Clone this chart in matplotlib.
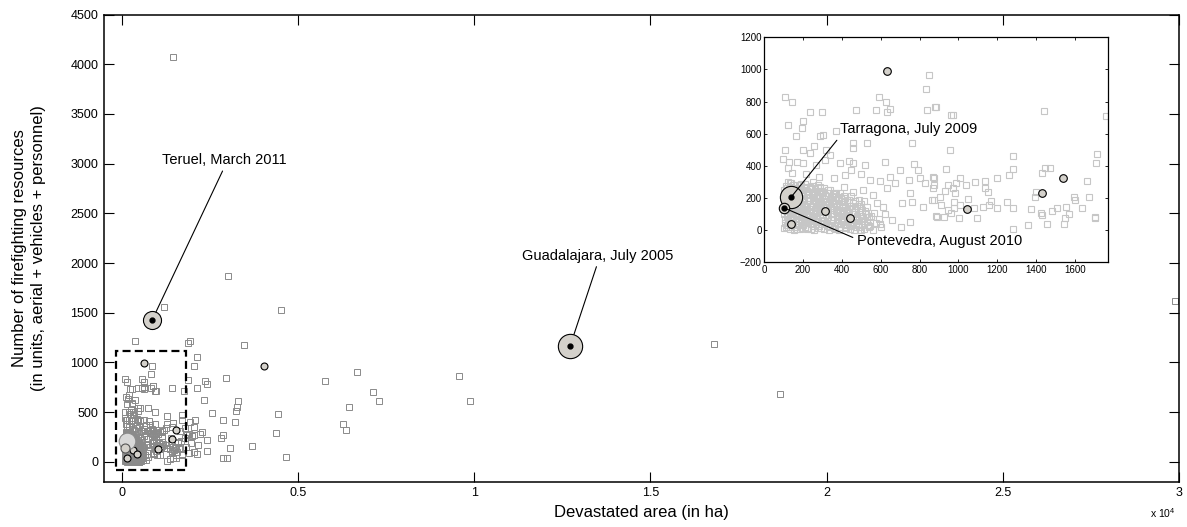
import numpy as np
import matplotlib.pyplot as plt
from matplotlib.patches import Rectangle

plt.rcParams['font.family'] = ['Liberation Sans', 'DejaVu Sans']
plt.rcParams['mathtext.fontset'] = 'custom'
plt.rcParams['mathtext.rm'] = 'Liberation Sans'

# fires outside the zoomed window (area in ha, resources)
big_fires = [
    (1446, 4076), (3017, 1869), (1211, 1555), (4508, 1528), (380, 1220), (1948, 1220),
    (1883, 1196), (3470, 1180), (2138, 1051), (2061, 959), (2949, 848), (1883, 824),
    (2364, 814), (2430, 780), (2127, 740), (2325, 621), (3300, 611), (3272, 547),
    (3244, 513), (2572, 492), (4451, 479), (2875, 425), (3215, 401), (1948, 401),
    (2090, 418), (4378, 290), (2864, 266), (2827, 243), (2421, 215), (3686, 158),
    (3073, 138), (2430, 104), (2138, 80), (4650, 46), (2864, 39), (2997, 39),
    (2231, 283), (1921, 283), (2279, 300), (2156, 168), (2042, 269), (2061, 352),
    (1806, 336), (1995, 262), (1853, 272), (1900, 85), (2042, 100), (1830, 150),
    (1960, 190), (1790, 240), (5776, 814), (6683, 899), (7128, 706), (7315, 614),
    (6456, 547), (6277, 381), (6371, 323), (9566, 868), (9895, 608), (16813, 1186),
    (18667, 679), (29880, 1615),
]

# fires readable inside the zoomed window
inset_fires = [
    (849, 968), (832, 879), (105, 829), (145, 800), (591, 829), (626, 800), (472, 745),
    (235, 737), (298, 737), (576, 745), (631, 737), (648, 752), (836, 745), (882, 766),
    (197, 677), (123, 656), (195, 635), (162, 583), (286, 583), (300, 589), (369, 618),
    (458, 541), (527, 541), (458, 514), (760, 541), (105, 500), (197, 500), (255, 521),
    (317, 500), (338, 468), (235, 479), (97, 441), (128, 421), (166, 421), (200, 416),
    (269, 406), (312, 437), (390, 416), (438, 433), (455, 416), (520, 406), (622, 421),
    (700, 375), (772, 410), (794, 375), (123, 385), (145, 358), (217, 350), (283, 333),
    (360, 323), (414, 343), (445, 375), (496, 350), (545, 312), (596, 306), (648, 333),
    (674, 291), (748, 312), (803, 323), (829, 291), (868, 329), (868, 260), (863, 187),
    (886, 87), (817, 146), (751, 229), (760, 177), (708, 166), (751, 52), (703, 20),
    (657, 66), (613, 146), (634, 260), (562, 218), (510, 250), (579, 166), (596, 41),
    (541, 20), (493, 0), (527, 83), (455, 239), (410, 271), (372, 229), (338, 250),
    (286, 271), (235, 260), (183, 281), (131, 291),
    (884, 766), (960, 714), (973, 714), (958, 500), (934, 379), (877, 323), (877, 281),
    (949, 281), (972, 260), (989, 291), (1011, 323), (1041, 281), (1087, 302),
    (1135, 308), (1139, 260), (1153, 235), (1199, 323), (1280, 464), (1284, 379),
    (1261, 343), (877, 187), (908, 208), (932, 246), (984, 229), (911, 156), (946, 125),
    (977, 173), (980, 135), (1011, 156), (1049, 193), (1080, 135), (1096, 73),
    (1006, 73), (963, 104), (925, 83), (891, 83), (1127, 146), (1158, 156), (1170, 181),
    (1199, 135), (1251, 173), (1280, 135), (1284, 8), (1359, 31), (1373, 129),
    (1428, 104), (1432, 93), (1401, 239), (1394, 208), (1433, 354), (1446, 389),
    (1470, 389), (1442, 741), (1459, 37), (1483, 121), (1511, 135), (1557, 146),
    (1571, 100), (1549, 73), (1545, 41), (1594, 204), (1601, 187), (1635, 135),
    (1664, 308), (1673, 208), (1716, 475), (1712, 416), (1704, 83), (1704, 73),
    (1759, 712),
]

# the dense bulk of small fires (estimated)
cluster_fires = [
    (102, 12), (118, 35), (131, 8), (147, 44), (158, 20), (172, 55), (186, 5), (199, 31),
    (213, 48), (226, 14), (241, 37), (255, 3), (268, 52), (282, 25), (296, 41), (309, 9),
    (323, 58), (337, 19), (351, 33), (364, 6), (378, 47), (392, 22), (405, 39), (419, 11),
    (433, 56), (447, 28), (461, 2), (474, 44), (488, 17), (502, 35), (516, 10), (530, 50),
    (547, 24), (561, 4),
    (105, 71), (121, 98), (134, 64), (149, 112), (163, 85), (177, 68), (190, 104),
    (204, 79), (219, 117), (232, 90), (246, 62), (259, 108), (273, 75), (287, 96),
    (300, 66), (314, 113), (328, 83), (343, 101), (356, 70), (370, 118), (384, 88),
    (397, 63), (411, 106), (425, 78), (439, 95), (452, 115), (466, 67), (480, 91),
    (495, 110), (509, 74), (523, 99), (540, 81), (566, 107), (590, 69),
    (103, 128), (116, 157), (129, 175), (142, 139), (155, 166), (168, 124), (181, 150),
    (195, 177), (208, 133), (222, 161), (235, 145), (249, 171), (262, 126), (276, 154),
    (290, 178), (303, 137), (317, 163), (330, 121), (344, 149), (358, 172), (371, 131),
    (385, 158), (399, 142), (412, 176), (426, 125), (440, 153), (455, 168), (470, 135),
    (488, 160), (505, 127), (528, 147),
    (100, 188), (112, 214), (126, 236), (139, 196), (152, 225), (165, 183), (178, 209),
    (192, 238), (205, 191), (218, 221), (231, 203), (245, 232), (258, 186), (272, 215),
    (285, 199), (299, 229), (312, 184), (326, 211), (340, 194), (354, 226), (368, 189),
    (383, 207), (398, 181), (415, 200), (437, 186),
    (101, 248), (114, 276), (127, 259), (140, 294), (154, 244), (167, 283), (181, 265),
    (194, 251), (208, 289), (221, 242), (235, 270), (249, 297), (263, 255), (277, 281),
    (291, 246), (306, 262),
    (110, 22), (124, 58), (137, 90), (152, 3), (165, 40), (180, 97), (193, 15), (207, 63),
    (220, 5), (234, 72), (250, 26), (264, 88), (277, 11), (291, 57), (305, 84), (318, 36),
    (332, 0), (346, 66), (360, 28), (373, 92), (387, 2), (402, 58), (416, 34), (430, 82),
    (444, 8), (458, 48), (472, 20), (486, 66), (500, 0), (113, 140), (126, 118),
    (139, 160), (157, 190), (171, 143), (184, 120), (198, 200), (212, 150), (226, 185),
    (240, 118), (253, 207), (267, 140), (280, 170), (294, 120), (308, 195), (321, 141),
    (335, 230), (349, 125), (362, 205), (376, 145), (390, 230), (405, 165), (420, 120),
    (118, 200), (132, 270), (146, 222), (160, 262), (174, 230), (188, 285), (202, 218),
    (216, 260), (230, 180), (243, 255), (257, 225), (270, 200), (284, 238), (298, 210),
    (120, 300), (134, 230), (148, 185),
    (106, 45), (115, 83), (123, 17), (133, 128), (141, 52), (150, 75), (159, 101),
    (167, 7), (175, 32), (183, 179), (191, 60), (200, 88), (209, 18), (217, 105),
    (225, 44), (233, 130), (242, 9), (251, 80), (259, 57), (266, 165), (275, 38),
    (283, 110), (292, 14), (300, 150), (310, 60), (319, 92), (327, 27), (336, 175),
    (345, 46), (353, 103), (361, 14), (370, 160), (379, 71), (388, 115), (396, 40),
    (406, 135), (414, 85), (423, 20), (432, 107), (441, 66), (450, 140), (459, 30),
    (468, 112), (477, 76), (485, 41), (494, 135), (503, 88), (512, 55), (520, 120),
    (535, 30), (550, 90), (575, 45), (600, 20), (620, 100),
    (104, 100), (108, 160), (111, 235), (117, 265), (122, 180), (128, 50), (131, 215),
    (136, 250), (143, 100), (146, 280), (151, 130), (156, 212), (161, 68), (166, 240),
    (170, 108), (176, 195), (182, 257), (187, 135), (192, 80), (197, 225), (203, 165),
    (210, 270), (214, 100), (223, 235), (229, 60), (237, 200), (244, 150), (248, 272),
    (256, 90), (261, 245), (266, 180), (271, 120), (279, 260), (286, 210), (293, 160),
    (302, 240), (313, 220), (320, 180), (329, 250), (338, 140), (347, 210), (356, 180),
    (366, 230), (375, 110), (381, 185), (393, 200), (401, 100), (409, 215), (418, 150),
    (428, 190), (436, 130), (447, 210), (457, 100), (465, 180), (478, 150), (490, 190),
    (499, 165), (515, 180),
]

# highlighted fires
event_names = ['Teruel, March 2011', 'Guadalajara, July 2005',
               'Tarragona, July 2009', 'Pontevedra, August 2010']
event_area = [862, 12721, 140, 101]
event_res = [1423, 1162, 208, 139]

ring_area = [631, 4026, 140, 312, 441, 1046, 1432, 1538]
ring_res = [991, 960, 37, 118, 77, 131, 233, 323]

area, res = np.array(big_fires + inset_fires + cluster_fires).T

ring_fill = '#d4d1cb'

fig = plt.figure(figsize=(11.87, 5.27), dpi=100)
ax = fig.add_axes([0.0876, 0.0860, 0.9057, 0.8863])

ax.plot(area, res, 's', ms=4, mfc='none', mec='#8a8a8a', mew=0.7, zorder=2)
ax.plot(ring_area, ring_res, 'o', ms=5, mfc=ring_fill, mec='k', mew=0.8, zorder=3)
# Tarragona, Pontevedra (main view)
ax.plot(event_area[2], event_res[2], 'o', ms=12, mfc='#d8d8d8', mec='#8a8a8a', mew=0.8, zorder=3)
ax.plot(event_area[3], event_res[3], 'o', ms=6.5, mfc=ring_fill, mec='#555555', mew=0.8, zorder=3)
# Teruel, Guadalajara
for i, s in [(0, 13), (1, 17.5)]:
    ax.plot(event_area[i], event_res[i], 'o', ms=s, mfc=ring_fill, mec='k', mew=0.8, zorder=4)
    ax.plot(event_area[i], event_res[i], 'o', ms=3.5, mfc='k', mec='k', zorder=5)

ax.add_patch(Rectangle((-160, -85), 1990, 1200, fill=False, ec='k', lw=1.6,
                       ls=(0, (3.6, 1.9)), zorder=6))

ax.annotate(event_names[0], xy=(event_area[0], event_res[0]), xytext=(2918, 3037),
            ha='center', va='center', fontsize=10.5,
            arrowprops=dict(arrowstyle='-', relpos=(0.5, 0), shrinkA=1, shrinkB=0, lw=0.8))
ax.annotate(event_names[1], xy=(event_area[1], event_res[1]), xytext=(13510, 2075),
            ha='center', va='center', fontsize=10.5,
            arrowprops=dict(arrowstyle='-', relpos=(0.5, 0), shrinkA=1, shrinkB=0, lw=0.8))

ax.set_xlim(-500, 30000)
ax.set_ylim(-200, 4500)
ax.set_xticks(np.arange(0, 30001, 5000))
ax.set_xticklabels(['0', '0.5', '1', '1.5', '2', '2.5', '3'])
ax.set_yticks(np.arange(0, 4501, 500))
ax.tick_params(direction='in', length=7, width=0.8, top=True, right=True,
               labelsize=9, pad=4)
for sp in ax.spines.values():
    sp.set_linewidth(1.1)

ax.set_xlabel('Devastated area (in ha)', fontsize=12, labelpad=4)
fig.text(29 / 1187, 1 - 248 / 527,
         'Number of firefighting resources\n(in units, aerial + vehicles + personnel)',
         rotation=90, ha='center', va='center', multialignment='center',
         fontsize=12, linespacing=1.3)
fig.text(1150 / 1187, 1 - 513 / 527, r'x 10$^{4}$', fontsize=7.5, ha='left', va='center')

# zoomed window
axin = fig.add_axes([0.6439, 0.5023, 0.2893, 0.4269])
axin.plot(area, res, 's', ms=5, mfc='none', mec='#c6c6c6', mew=0.8, zorder=2)
axin.plot(ring_area, ring_res, 'o', ms=5.5, mfc=ring_fill, mec='k', mew=0.8, zorder=3)
for i, s in [(2, 16), (3, 7.5)]:
    axin.plot(event_area[i], event_res[i], 'o', ms=s, mfc=ring_fill, mec='k', mew=0.8, zorder=4)
    axin.plot(event_area[i], event_res[i], 'o', ms=3.5, mfc='k', mec='k', zorder=5)

axin.annotate(event_names[2], xy=(event_area[2], event_res[2]), xytext=(390, 627),
              ha='left', va='center', fontsize=10.5, zorder=6,
              arrowprops=dict(arrowstyle='-', relpos=(0, 0), shrinkA=1, shrinkB=0, lw=0.8))
axin.annotate(event_names[3], xy=(event_area[3], event_res[3]), xytext=(477, -65),
              ha='left', va='center', fontsize=10.5, zorder=6,
              arrowprops=dict(arrowstyle='-', relpos=(0, 0.6), shrinkA=1, shrinkB=0, lw=0.8))

axin.set_xlim(0, 1770)
axin.set_ylim(-200, 1200)
axin.set_xticks(np.arange(0, 1601, 200))
axin.set_yticks(np.arange(-200, 1201, 200))
axin.tick_params(direction='in', length=2.5, width=0.6, top=True, right=True,
                 labelsize=7, pad=2)
for sp in axin.spines.values():
    sp.set_linewidth(0.9)

fig.savefig('out.png', dpi=100)
